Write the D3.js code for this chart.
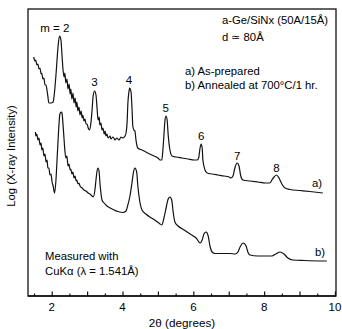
<!DOCTYPE html>
<html>
<head>
<meta charset="utf-8">
<script src="https://cdn.jsdelivr.net/npm/d3@7"></script>
<style>
    body { margin: 0; background: #fff; }
    svg text { font-family: "Liberation Sans", Arial, sans-serif; fill: #000; }
</style>
</head>
<body>
<svg id="graphSvg" width="342" height="329"></svg>
<script>
// 2theta (deg) and log intensity (arbitrary decades)
const asPrepared2Theta = [1.49, 1.53, 1.55, 1.58, 1.61, 1.64, 1.67, 1.70, 1.72, 1.75, 1.78, 1.81, 1.84, 1.87, 1.89, 1.92, 1.98, 2.04, 2.06, 2.09,
    2.12, 2.15, 2.18, 2.22, 2.26, 2.29, 2.32, 2.35, 2.37, 2.40, 2.43, 2.46, 2.49, 2.52, 2.54, 2.57, 2.60, 2.63, 2.66, 2.69,
    2.71, 2.74, 2.77, 2.80, 2.83, 2.86, 2.88, 2.91, 2.94, 2.97, 3.00, 3.03, 3.07, 3.11, 3.14, 3.17, 3.21, 3.25, 3.28, 3.31,
    3.34, 3.36, 3.39, 3.42, 3.45, 3.48, 3.51, 3.53, 3.56, 3.59, 3.65, 3.67, 3.73, 3.79, 3.84, 3.90, 3.96, 4.01, 4.07, 4.10,
    4.13, 4.15, 4.18, 4.20, 4.24, 4.27, 4.29, 4.32, 4.35, 4.38, 4.41, 4.43, 4.55, 4.66, 4.77, 4.89, 5.00, 5.06, 5.11, 5.14,
    5.17, 5.20, 5.23, 5.26, 5.29, 5.34, 5.40, 5.51, 5.68, 5.85, 6.02, 6.11, 6.15, 6.19, 6.22, 6.25, 6.27, 6.33, 6.39, 6.53,
    6.70, 6.87, 7.01, 7.06, 7.12, 7.18, 7.24, 7.29, 7.34, 7.40, 7.60, 7.82, 8.05, 8.16, 8.22, 8.28, 8.35, 8.42, 8.50, 8.59,
    8.73, 9.01, 9.29, 9.66];
const asPreparedLogI = [2.39, 2.35, 2.36, 2.31, 2.32, 2.27, 2.28, 2.22, 2.23, 2.17, 2.18, 2.11, 2.11, 2.05, 2.00, 1.93, 1.93, 1.94, 1.98, 2.08,
    2.21, 2.36, 2.50, 2.60, 2.56, 2.41, 2.26, 2.19, 2.23, 2.13, 2.17, 2.07, 2.12, 2.02, 2.07, 1.97, 2.03, 1.93, 1.98, 1.89,
    1.94, 1.85, 1.89, 1.81, 1.85, 1.78, 1.81, 1.75, 1.77, 1.72, 1.72, 1.68, 1.66, 1.74, 1.86, 2.00, 2.05, 2.01, 1.88, 1.76,
    1.79, 1.71, 1.73, 1.66, 1.68, 1.62, 1.65, 1.60, 1.62, 1.58, 1.60, 1.57, 1.59, 1.56, 1.58, 1.56, 1.59, 1.58, 1.60, 1.63,
    1.74, 1.92, 2.04, 2.08, 2.04, 1.86, 1.70, 1.66, 1.65, 1.56, 1.50, 1.48, 1.46, 1.44, 1.42, 1.40, 1.38, 1.36, 1.36, 1.46,
    1.61, 1.76, 1.80, 1.76, 1.61, 1.46, 1.40, 1.39, 1.38, 1.37, 1.36, 1.36, 1.38, 1.48, 1.52, 1.48, 1.36, 1.26, 1.23, 1.22,
    1.21, 1.20, 1.19, 1.18, 1.20, 1.29, 1.33, 1.30, 1.20, 1.16, 1.15, 1.14, 1.13, 1.13, 1.16, 1.19, 1.21, 1.18, 1.12, 1.08,
    1.065, 1.055, 1.045, 1.03];

const annealed2Theta = [1.54, 1.55, 1.58, 1.61, 1.64, 1.67, 1.70, 1.72, 1.75, 1.78, 1.81, 1.84, 1.87, 1.89, 1.92, 1.95, 1.98, 2.01, 2.04, 2.08,
    2.12, 2.15, 2.18, 2.21, 2.23, 2.27, 2.29, 2.32, 2.35, 2.37, 2.40, 2.43, 2.46, 2.49, 2.52, 2.54, 2.57, 2.60, 2.63, 2.66,
    2.69, 2.71, 2.74, 2.77, 2.80, 2.86, 2.91, 2.97, 3.03, 3.08, 3.14, 3.17, 3.22, 3.25, 3.28, 3.31, 3.34, 3.36, 3.39, 3.42,
    3.48, 3.56, 3.65, 3.76, 3.87, 4.01, 4.10, 4.15, 4.21, 4.27, 4.31, 4.35, 4.40, 4.43, 4.49, 4.55, 4.66, 4.77, 4.91, 5.06,
    5.11, 5.17, 5.23, 5.29, 5.34, 5.39, 5.43, 5.48, 5.57, 5.74, 5.91, 6.08, 6.19, 6.25, 6.30, 6.36, 6.42, 6.47, 6.53, 6.61,
    6.81, 7.04, 7.18, 7.26, 7.32, 7.41, 7.49, 7.54, 7.60, 7.82, 8.05, 8.22, 8.33, 8.45, 8.56, 8.67, 8.81, 9.15, 9.77];
const annealedLogI = [1.64, 1.60, 1.62, 1.56, 1.58, 1.51, 1.53, 1.46, 1.48, 1.40, 1.42, 1.34, 1.36, 1.28, 1.28, 1.21, 1.22, 1.14, 1.10, 1.03,
    1.16, 1.36, 1.56, 1.74, 1.82, 1.84, 1.83, 1.71, 1.56, 1.46, 1.38, 1.40, 1.30, 1.32, 1.26, 1.27, 1.22, 1.24, 1.18, 1.20,
    1.15, 1.16, 1.12, 1.13, 1.10, 1.08, 1.06, 1.05, 1.03, 1.02, 1.00, 0.99, 1.06, 1.16, 1.25, 1.28, 1.24, 1.14, 1.03, 0.96,
    0.93, 0.90, 0.88, 0.86, 0.845, 0.835, 0.85, 0.91, 1.00, 1.14, 1.24, 1.28, 1.24, 1.11, 0.94, 0.86, 0.82, 0.79, 0.76, 0.72,
    0.71, 0.78, 0.88, 0.97, 0.99, 0.96, 0.84, 0.74, 0.70, 0.66, 0.62, 0.58, 0.53, 0.56, 0.62, 0.64, 0.60, 0.50, 0.44, 0.425,
    0.425, 0.425, 0.42, 0.44, 0.49, 0.53, 0.50, 0.44, 0.41, 0.40, 0.40, 0.40, 0.42, 0.44, 0.42, 0.38, 0.36, 0.355, 0.35];

// peak order labels
const peakLabels = ["m = 2", "3", "4", "5", "6", "7", "8"];
const peakLabel2Theta = [2.09, 3.21, 4.18, 5.22, 6.22, 7.24, 8.35];
const peakLabelLogI = [2.64, 2.10, 2.12, 1.84, 1.56, 1.36, 1.24];

const xTicksMajor = [2, 4, 6, 8, 10];
const xTicksMinor = d3.range(1.5, 10.01, 0.5);

const width = 342, height = 329;
const margin = {top: 9, right: 6, bottom: 33, left: 28};

const svg = d3.select("#graphSvg");

const x = d3.scaleLinear()
    .domain([1.33, 10.03])
    .range([margin.left, width - margin.right]);

const y = d3.scaleLinear()
    .domain([0, 2.87])
    .range([height - margin.bottom, margin.top]);

// frame
svg.append("rect")
    .attr("x", margin.left)
    .attr("y", margin.top)
    .attr("width", width - margin.left - margin.right)
    .attr("height", height - margin.top - margin.bottom)
    .attr("fill", "none")
    .attr("stroke", "#111")
    .attr("stroke-width", 1.3);

// x-axis, ticks pointing inward
const xAxis = svg.append("g")
    .attr("transform", `translate(0,${height - margin.bottom})`);

xAxis.call(d3.axisBottom(x)
    .tickValues(xTicksMinor)
    .tickSize(-2.5)
    .tickFormat(""))
    .call(g => g.select(".domain").remove());

xAxis.selectAll(".tick")
    .filter(d => Number.isInteger(d))
    .select("line")
    .attr("y2", -4.5);

xAxis.selectAll(".tick line")
    .attr("stroke", "#111")
    .attr("stroke-width", 1.2);

svg.append("line")
    .attr("x1", margin.left)
    .attr("x2", width - margin.right)
    .attr("y1", height - margin.bottom)
    .attr("y2", height - margin.bottom)
    .attr("stroke", "#111")
    .attr("stroke-width", 1.6);

svg.append("g")
    .selectAll("text")
    .data(xTicksMajor)
    .enter()
    .append("text")
    .attr("x", d => x(d))
    .attr("y", height - margin.bottom + 15)
    .attr("text-anchor", "middle")
    .style("font-size", "11.5px")
    .text(d => d);

svg.append("text")
    .attr("x", 182)
    .attr("y", height - 2)
    .attr("text-anchor", "middle")
    .style("font-size", "11.7px")
    .text("2θ (degrees)");

svg.append("text")
    .attr("transform", `translate(15,${156}) rotate(-90)`)
    .attr("text-anchor", "middle")
    .style("font-size", "11.3px")
    .text("Log (X-ray Intensity)");

// curves
const line = d3.line()
    .x(d => x(d[0]))
    .y(d => y(d[1]))
    .curve(d3.curveMonotoneX);

const curves = [
    d3.zip(asPrepared2Theta, asPreparedLogI),
    d3.zip(annealed2Theta, annealedLogI)
];

svg.append("g")
    .selectAll("path")
    .data(curves)
    .enter()
    .append("path")
    .attr("d", line)
    .attr("fill", "none")
    .attr("stroke", "#111")
    .attr("stroke-width", 1.2)
    .attr("stroke-linejoin", "round");

svg.append("g")
    .selectAll("text")
    .data(peakLabels)
    .enter()
    .append("text")
    .attr("x", (d, i) => x(peakLabel2Theta[i]))
    .attr("y", (d, i) => y(peakLabelLogI[i]))
    .attr("text-anchor", "middle")
    .style("font-size", "11.5px")
    .text(d => d);

// curve tags and notes
const notes = [
    {t: "a)", x: 317, y: 187, a: "middle"},
    {t: "b)", x: 320, y: 256, a: "middle"},
    {t: "a-Ge/SiNx (50A/15Å)", x: 222, y: 24, a: "start"},
    {t: "d ≃ 80Å", x: 222, y: 41, a: "start"},
    {t: "a) As-prepared", x: 185, y: 75, a: "start"},
    {t: "b) Annealed at 700°C/1 hr.", x: 185, y: 89, a: "start"},
    {t: "Measured with", x: 45, y: 260, a: "start"},
    {t: "CuKα (λ = 1.541Å)", x: 45, y: 275, a: "start"}
];

svg.append("g")
    .selectAll("text")
    .data(notes)
    .enter()
    .append("text")
    .attr("x", d => d.x)
    .attr("y", d => d.y)
    .attr("text-anchor", d => d.a)
    .style("font-size", "11.3px")
    .text(d => d.t);
</script>
</body>
</html>
